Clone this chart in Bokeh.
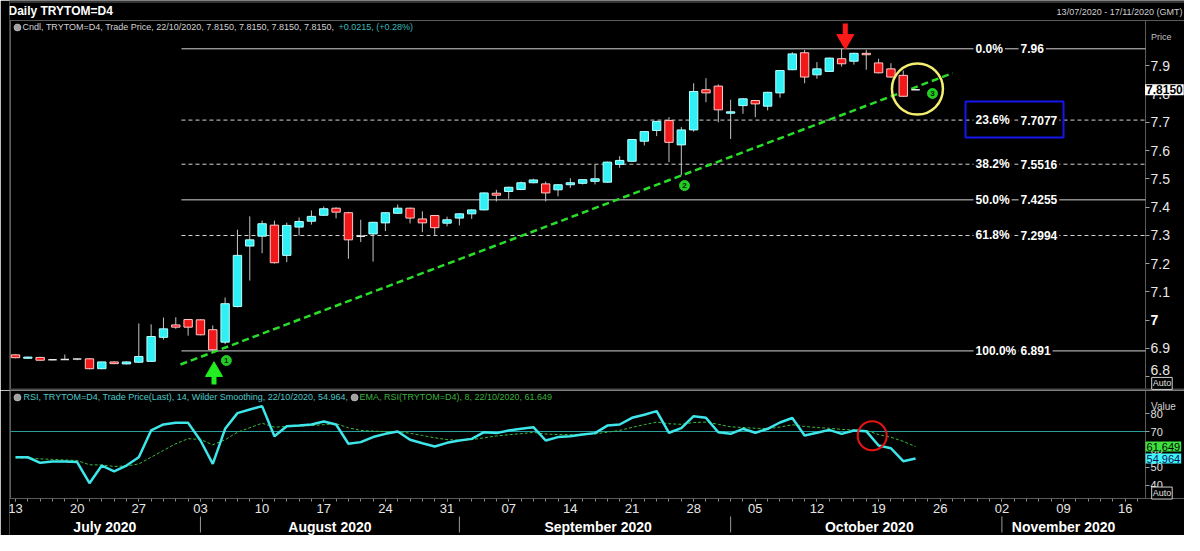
from bokeh.plotting import figure
from bokeh.layouts import column
from bokeh.models import (Range1d, LinearAxis, FixedTicker, ColumnDataSource, Label, Span,
                          BoxAnnotation)
from bokeh.core.properties import value
from bokeh.embed import file_html
from bokeh.resources import INLINE

FONT = "Liberation Sans"

# ---------------- data ----------------
opens = [6.877, 6.865, 6.868, 6.860, 6.861, 6.862, 6.863, 6.828, 6.852, 6.845,
         6.851, 6.854, 6.939, 6.983, 7.002, 7.001, 6.966, 6.922, 7.048, 7.262,
         7.297, 7.336, 7.229, 7.329, 7.350, 7.371, 7.396, 7.380, 7.297, 7.305,
         7.344, 7.378, 7.396, 7.358, 7.370, 7.343, 7.361, 7.376, 7.390, 7.449,
         7.455, 7.462, 7.486, 7.482, 7.461, 7.479, 7.484, 7.491, 7.488, 7.551,
         7.562, 7.633, 7.671, 7.706, 7.620, 7.673, 7.815, 7.828, 7.732, 7.759,
         7.777, 7.757, 7.804, 7.886, 7.946, 7.868, 7.880, 7.925, 7.916, 7.944,
         7.910, 7.889, 7.866, 7.815]
closes = [6.867, 6.869, 6.858, 6.860, 6.861, 6.862, 6.828, 6.852, 6.846, 6.852,
          6.871, 6.942, 6.969, 6.975, 6.975, 6.948, 6.895, 7.058, 7.229, 7.284,
          7.341, 7.203, 7.335, 7.349, 7.367, 7.394, 7.382, 7.284, 7.297, 7.346,
          7.380, 7.396, 7.361, 7.344, 7.327, 7.355, 7.376, 7.390, 7.450, 7.442,
          7.470, 7.486, 7.496, 7.450, 7.479, 7.486, 7.497, 7.500, 7.559, 7.565,
          7.639, 7.667, 7.703, 7.629, 7.673, 7.809, 7.804, 7.744, 7.737, 7.783,
          7.765, 7.806, 7.883, 7.942, 7.860, 7.889, 7.927, 7.907, 7.944, 7.939,
          7.875, 7.860, 7.792, 7.815]
highs = [6.879, 6.871, 6.870, 6.862, 6.878, 6.864, 6.865, 6.853, 6.854, 6.854,
         6.988, 6.985, 7.009, 7.010, 7.004, 7.003, 6.981, 7.080, 7.320, 7.367,
         7.352, 7.352, 7.345, 7.363, 7.388, 7.402, 7.399, 7.383, 7.355, 7.348,
         7.382, 7.409, 7.398, 7.385, 7.372, 7.366, 7.378, 7.392, 7.452, 7.461,
         7.472, 7.490, 7.500, 7.490, 7.481, 7.502, 7.499, 7.551, 7.561, 7.580,
         7.641, 7.669, 7.705, 7.718, 7.683, 7.838, 7.856, 7.834, 7.780, 7.785,
         7.779, 7.808, 7.885, 7.948, 7.956, 7.913, 7.929, 7.960, 7.946, 7.956,
         7.925, 7.909, 7.883, 7.815]
lows = [6.865, 6.863, 6.856, 6.858, 6.860, 6.858, 6.826, 6.826, 6.844, 6.843,
        6.849, 6.852, 6.931, 6.969, 6.945, 6.946, 6.891, 6.915, 7.045, 7.140,
        7.237, 7.200, 7.205, 7.299, 7.338, 7.369, 7.360, 7.217, 7.276, 7.207,
        7.315, 7.376, 7.342, 7.311, 7.299, 7.332, 7.335, 7.358, 7.388, 7.420,
        7.429, 7.460, 7.484, 7.420, 7.438, 7.468, 7.480, 7.480, 7.486, 7.539,
        7.560, 7.618, 7.651, 7.559, 7.512, 7.667, 7.771, 7.700, 7.641, 7.730,
        7.718, 7.742, 7.787, 7.884, 7.838, 7.854, 7.878, 7.897, 7.904, 7.886,
        7.873, 7.858, 7.790, 7.815]

rsi = [55.7, 55.7, 52.6, 53.3, 53.3, 53.0, 41.3, 51.1, 47.9, 51.1,
       55.7, 70.6, 73.9, 74.8, 74.8, 65.0, 52.0, 71.5, 80.2, 82.2,
       84.1, 67.4, 72.9, 73.3, 73.9, 75.6, 73.9, 63.2, 64.1, 66.9,
       68.7, 70.0, 65.4, 63.5, 61.7, 63.7, 65.0, 65.9, 69.6, 69.1,
       70.6, 71.5, 72.4, 65.0, 66.9, 67.4, 68.3, 69.1, 73.3, 73.9,
       77.6, 79.3, 81.3, 69.3, 71.9, 78.5, 77.6, 69.6, 68.7, 71.5,
       69.3, 71.5, 75.0, 77.5, 67.8, 69.3, 70.9, 68.7, 70.6, 70.2,
       62.2, 60.7, 53.5, 54.964]
rsi_ema = [55.4, 55.2, 54.8, 54.5, 54.2, 53.9, 51.5, 51.4, 50.6, 50.8,
           52.0, 55.7, 59.5, 63.2, 66.0, 65.6, 62.6, 65.4, 69.6, 72.1,
           74.6, 72.4, 72.8, 73.0, 73.3, 73.8, 74.3, 72.1, 70.6, 70.2,
           70.0, 70.0, 69.0, 67.8, 66.5, 65.5, 65.2, 65.5, 66.5, 67.5,
           68.2, 68.8, 69.5, 68.6, 68.3, 68.3, 68.5, 68.7, 69.6, 70.6,
           72.3, 73.8, 75.2, 74.3, 74.0, 75.0, 75.2, 74.0, 72.6, 72.2,
           71.8, 71.5, 72.5, 73.7, 72.8, 72.2, 71.8, 71.2, 70.8, 70.6,
           68.3, 66.8, 64.5, 61.649]

fib_pct = ["0.0%", "23.6%", "38.2%", "50.0%", "61.8%", "100.0%"]
fib_val = [7.96, 7.7077, 7.5516, 7.4255, 7.2994, 6.891]
fib_txt = ["7.96", "7.7077", "7.5516", "7.4255", "7.2994", "6.891"]
fib_dashed = [False, True, True, False, True, False]
fib_start = 13.46          # trading-day index where the retracement lines start

trend_x = [13.38, 76.0]    # green dashed support line (trading-day index)
trend_y = [6.843, 7.8737]

price_ticks = [6.8, 6.9, 7.0, 7.1, 7.2, 7.3, 7.4, 7.5, 7.6, 7.7, 7.8, 7.9]
price_tick_labels = ["", "6.9", "", "7.1", "7.2", "7.3", "7.4", "7.5", "7.6", "7.7", "7.8", "7.9"]
rsi_ticks = [40, 50, 60, 70, 80]
rsi_level = 70

day_ticks = list(range(0, 91, 5))
day_labels = ["13", "20", "27", "03", "10", "17", "24", "31", "07", "14",
              "21", "28", "05", "12", "19", "26", "02", "09", "16"]
month_labels = ["July 2020", "August 2020", "September 2020", "October 2020", "November 2020"]
month_centers = [7.25, 25.5, 47.25, 69.25, 85.0]
month_starts = [15, 36, 58, 80]

last_price = 7.815
last_rsi = 54.964
last_ema = 61.649

# ---------------- derived ----------------
n = len(closes)
xs = list(range(n))
CYAN = "#2ef0f5"
RED = "#f01818"
body = dict(x=[], top=[], bottom=[], fill=[], line=[])
doji = dict(x0=[], x1=[], y=[])
for i, (o, c) in enumerate(zip(opens, closes)):
    if o == c:
        doji["x0"].append(i - 0.34); doji["x1"].append(i + 0.34); doji["y"].append(c)
    else:
        body["x"].append(i)
        body["top"].append(max(o, c)); body["bottom"].append(min(o, c))
        body["fill"].append(CYAN if c > o else RED)
        body["line"].append("#b8ffff" if c > o else "#ffc8c8")

X_START = -0.405           # left edge of the chart panels
X_END = 91.65              # right edge of the chart panels (axis column starts here)
xr = Range1d(-0.4866, 94.81)
P_TOP = 8.060              # top of the price panel (header above)
P_BOT = 6.7509
GRAY = "#5c5c5c"

# ---------------- price panel ----------------
p1 = figure(width=1184, height=390, x_range=xr, y_range=Range1d(P_BOT, 8.1309),
            x_axis_location=None, y_axis_location=None,
            output_backend="svg", toolbar_location=None,
            min_border_left=9, min_border_right=0, min_border_top=0, min_border_bottom=0,
            background_fill_color="#000000", border_fill_color="#000000",
            outline_line_color=None)
p1.grid.visible = False
ya = LinearAxis(fixed_location=X_END,
                ticker=FixedTicker(ticks=price_ticks, minor_ticks=[]),
                major_label_overrides=dict(zip(price_ticks, price_tick_labels)),
                axis_line_color=None, major_tick_line_color="#a0a0a0", major_tick_in=0,
                major_tick_out=4, major_label_standoff=1, major_label_text_color="#e8e8e8",
                major_label_text_font_size="14px", major_label_text_font=FONT)
p1.add_layout(ya, "right")
# lowest tick label lifted above the panel edge and the bold "7", as in the reference
p1.add_layout(Label(x=92.05, y=6.8252, text="6.8", text_color="#e8e8e8", text_font=FONT,
                    text_font_size="14px", text_baseline="middle"))
p1.add_layout(Label(x=92.05, y=7.0, text="7", text_color="#ffffff", text_font=FONT,
                    text_font_size="14px", text_font_style="bold", text_baseline="middle"))

# panel frame lines
p1.add_layout(Span(location=8.1256, dimension="width", line_color="#6a6a6a", line_width=1))
p1.add_layout(Span(location=P_TOP, dimension="width", line_color=GRAY, line_width=1))
p1.add_layout(Span(location=6.7544, dimension="width", line_color="#4a4a4a", line_width=2))
p1.segment(x0=[X_START, X_END], y0=[P_BOT, P_BOT], x1=[X_START, X_END], y1=[P_TOP, P_TOP],
           line_color=GRAY, line_width=1)

# fibonacci lines
for dashed in (False, True):
    yy = [v for v, d in zip(fib_val, fib_dashed) if d == dashed]
    p1.segment(x0=[fib_start] * len(yy), y0=yy, x1=[X_END] * len(yy), y1=yy,
               line_color="#d4d4d4", line_width=1, line_dash="4 3" if dashed else "solid")

# trend line
p1.line(trend_x, trend_y, line_color="#2add2a", line_width=2.5, line_dash="7 4")

# candles
p1.segment(x0=xs, y0=lows, x1=xs, y1=highs, line_color="#c4c4c4", line_width=1)
p1.vbar(x="x", top="top", bottom="bottom", width=0.68, fill_color="fill", line_color="line",
        line_width=1, source=ColumnDataSource(body))
p1.segment(x0="x0", y0="y", x1="x1", y1="y", line_color="#e8e8e8", line_width=1.5,
           source=ColumnDataSource(doji))

# fib labels
for pct, v, t in zip(fib_pct, fib_val, fib_txt):
    for xx, tt in ((77.7, pct), (81.35, t)):
        p1.add_layout(Label(x=xx, y=v, text=tt, text_color="#ffffff", text_font=FONT,
                            text_font_size="12px", text_font_style="bold", text_baseline="middle",
                            background_fill_color="#000000", padding=2))

# annotations
p1.add_layout(BoxAnnotation(left=77.05, right=85.0, bottom=7.646, top=7.7735, fill_alpha=0,
                            line_color="#1515f0", line_alpha=1.0, line_width=2))
p1.scatter([73.15], [7.8178], marker="circle", size=51, fill_color=None,
           line_color="#f3ee70", line_width=2.5)
# red down arrow
p1.segment(x0=[67.3], y0=[8.0495], x1=[67.3], y1=[8.003], line_color="#ff1a1a", line_width=5)
p1.scatter([67.3], [7.993], marker="inverted_triangle", size=17, fill_color="#ff1a1a",
           line_color="#ff1a1a")
# green up arrow
p1.segment(x0=[16.1], y0=[6.772], x1=[16.1], y1=[6.808], line_color="#22ee22", line_width=5)
p1.scatter([16.1], [6.818], marker="triangle", size=17, fill_color="#22ee22", line_color="#22ee22")
# numbered points
mk_x = [17.1, 54.26, 74.37]
mk_y = [6.857, 7.476, 7.802]
p1.scatter(mk_x, mk_y, marker="circle", size=10, fill_color="#22cc22", line_color="#22cc22")
p1.text(mk_x, mk_y, text=["1", "2", "3"], text_font=value(FONT), text_font_size="8px",
        text_font_style="bold", text_color="#002200", text_align="center", text_baseline="middle")

# header texts
p1.add_layout(Label(x=-0.57, y=8.0938, text="Daily TRYTOM=D4", text_color="#ffffff", text_font=FONT,
                    text_font_size="12px", text_font_style="bold", text_baseline="middle"))
p1.add_layout(Label(x=94.65, y=8.0885, text="13/07/2020 - 17/11/2020 (GMT)", text_color="#cfcfcf",
                    text_font=FONT, text_font_size="9px", text_align="right", text_baseline="middle"))
p1.scatter([0.16], [8.0354], marker="circle", size=7, fill_color="#a0a0a0", line_color="#e0e0e0",
           line_width=0.5)
p1.add_layout(Label(x=0.57, y=8.0354,
                    text="Cndl, TRYTOM=D4, Trade Price, 22/10/2020, 7.8150, 7.8150, 7.8150, 7.8150, ",
                    text_color="#d2d2d2", text_font=FONT, text_font_size="9px", text_baseline="middle"))
p1.add_layout(Label(x=26.2, y=8.0354, text="+0.0215, (+0.28%)", text_color="#3ab8b8",
                    text_font=FONT, text_font_size="9px", text_baseline="middle"))
# right side
p1.add_layout(Label(x=92.1, y=8.0, text="Price", text_color="#c0c0c0", text_font=FONT,
                    text_font_size="9px", text_baseline="middle"))
p1.add_layout(Label(x=X_END - 0.04, y=last_price, text="7.8150", text_color="#000000", text_font=FONT,
                    text_font_size="12px", text_font_style="bold", text_baseline="middle",
                    background_fill_color="#ffffff", padding=1))
p1.add_layout(Label(x=92.15, y=6.776, text="Auto", text_color="#e0e0e0", text_font=FONT,
                    text_font_size="9px", text_baseline="middle", background_fill_color="#000000",
                    border_line_color="#d0d0d0", padding=1))

# ---------------- RSI panel (frame runs down to the date axes) ----------------
R_TOP, R_BOT = 92.78, 12.22
R_AXIS = 32.78             # bottom edge of the RSI panel / date axis line
R_MONTH = 22.22            # month label row
R_SEP = (22.78, 13.89)     # month separator extent

p2 = figure(width=1184, height=145, x_range=xr, y_range=Range1d(R_BOT, R_TOP),
            x_axis_location=None, y_axis_location=None,
            output_backend="svg", toolbar_location=None,
            min_border_left=9, min_border_right=0, min_border_top=0, min_border_bottom=0,
            background_fill_color="#000000", border_fill_color="#000000",
            outline_line_color=None)
p2.grid.visible = False
ra = LinearAxis(fixed_location=X_END, ticker=FixedTicker(ticks=rsi_ticks, minor_ticks=[]),
                axis_line_color=None, major_tick_line_color="#a0a0a0", major_tick_in=0,
                major_tick_out=4, major_label_standoff=1, major_label_text_color="#e0e0e0",
                major_label_text_font_size="11px", major_label_text_font=FONT)
p2.add_layout(ra, "right")
p2.segment(x0=[X_START, X_END], y0=[R_AXIS, R_AXIS], x1=[X_START, X_END], y1=[R_TOP, R_TOP],
           line_color=GRAY, line_width=1)
p2.add_layout(Span(location=R_AXIS, dimension="width", line_color=GRAY, line_width=1))

p2.segment(x0=[X_START], y0=[rsi_level], x1=[X_END], y1=[rsi_level], line_color="#2a9e9e",
           line_width=1)
p2.line(xs, rsi_ema, line_color="#3cb83c", line_width=1, line_dash="3 2")
p2.line(xs, rsi, line_color="#3ee6ea", line_width=2.5)
p2.scatter([69.48], [67.6], marker="circle", size=29, fill_color=None, line_color="#e81414",
           line_width=2)

p2.scatter([0.16], [88.9], marker="circle", size=7, fill_color="#a0a0a0", line_color="#e0e0e0",
           line_width=0.5)
p2.add_layout(Label(x=0.65, y=88.9,
                    text="RSI, TRYTOM=D4, Trade Price(Last),  14, Wilder Smoothing, 22/10/2020, 54.964, ",
                    text_color="#4cc8c8", text_font=FONT, text_font_size="9px", text_baseline="middle"))
p2.scatter([27.5], [88.9], marker="circle", size=7, fill_color="#a0a0a0", line_color="#e0e0e0",
           line_width=0.5)
p2.add_layout(Label(x=27.9, y=88.9, text="EMA, RSI(TRYTOM=D4),  8, 22/10/2020, 61.649",
                    text_color="#3cb23c", text_font=FONT, text_font_size="9px", text_baseline="middle"))

p2.add_layout(Label(x=92.1, y=84.0, text="Value", text_color="#d0d0d0", text_font=FONT,
                    text_font_size="10px", text_baseline="middle"))
p2.add_layout(Label(x=X_END, y=last_ema, text="61.649", text_color="#000000", text_font=FONT,
                    text_font_size="11px", text_baseline="middle",
                    background_fill_color="#3ee03e", padding=1))
p2.add_layout(Label(x=X_END, y=last_rsi, text="54.964", text_color="#101060", text_font=FONT,
                    text_font_size="11px", text_baseline="middle",
                    background_fill_color="#3ff5f5", padding=1))
p2.add_layout(Label(x=92.15, y=35.8, text="Auto", text_color="#e0e0e0", text_font=FONT,
                    text_font_size="9px", text_baseline="middle", background_fill_color="#000000",
                    border_line_color="#d0d0d0", padding=1))

day_axis = LinearAxis(fixed_location=R_AXIS,
                      ticker=FixedTicker(ticks=day_ticks, minor_ticks=list(range(0, 92))),
                      major_label_overrides=dict(zip(day_ticks, day_labels)),
                      axis_line_color=None, major_tick_line_color="#8a8a8a", major_tick_in=0,
                      major_tick_out=3, minor_tick_line_color="#8a8a8a", minor_tick_in=0,
                      minor_tick_out=3, major_label_text_color="#e6e6e6",
                      major_label_text_font_size="13px", major_label_text_font=FONT,
                      major_label_standoff=3)
p2.add_layout(day_axis, "below")
month_axis = LinearAxis(fixed_location=R_MONTH,
                        ticker=FixedTicker(ticks=month_centers, minor_ticks=[]),
                        major_label_overrides=dict(zip(month_centers, month_labels)),
                        axis_line_color=None, major_tick_line_color=None, major_tick_in=0,
                        major_tick_out=0, major_label_text_color="#ffffff",
                        major_label_text_font_size="14px", major_label_text_font_style="bold",
                        major_label_text_font=FONT, major_label_standoff=1)
p2.add_layout(month_axis, "below")
p2.segment(x0=month_starts, y0=[R_SEP[0]] * len(month_starts), x1=month_starts,
           y1=[R_SEP[1]] * len(month_starts), line_color="#9a9a9a", line_width=1)

layout = column(p1, p2, spacing=0)
open("out.html", "w").write(file_html(layout, INLINE))
